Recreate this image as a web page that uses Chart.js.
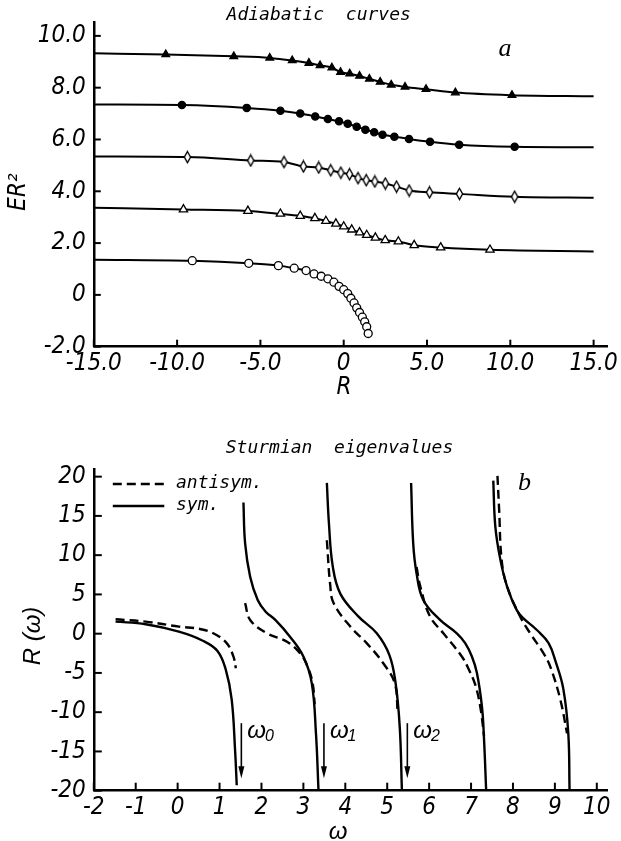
<!DOCTYPE html>
<html>
<head>
<meta charset="utf-8">
<script src="https://cdn.jsdelivr.net/npm/chart.js@4.4.1/dist/chart.umd.min.js"></script>
<style>
    html, body { margin: 0; padding: 0; background: #fff; }
    #wrapA { position: absolute; left: 0; top: 0; width: 621px; height: 400px; }
    #wrapB { position: absolute; left: 0; top: 400px; width: 621px; height: 441px; }
</style>
</head>
<body>
<div id="wrapA"><canvas id="chartA" width="621" height="400"></canvas></div>
<div id="wrapB"><canvas id="chartB" width="621" height="441"></canvas></div>
<script>
// ---- panel a: adiabatic curves ----
const rTicksA = [-15, -10, -5, 0, 5, 10, 15];
const eTicksA = [-2, 0, 2, 4, 6, 8, 10];
const curveStartE = [9.33, 7.35, 5.34, 3.36, 1.36];
const curveEndE = [7.67, 5.70, 3.75, 1.68, null];

const triFilledR = [-10.68, -6.6, -4.44, -3.09, -2.09, -1.42, -0.71, -0.19, 0.36, 0.95, 1.54, 2.19, 2.85, 3.68, 4.94, 6.7, 10.1];
const triFilledE = [9.28, 9.21, 9.15, 9.05, 8.95, 8.86, 8.77, 8.60, 8.54, 8.45, 8.34, 8.22, 8.11, 8.03, 7.94, 7.81, 7.71];
const dotFilledR = [-9.71, -5.82, -3.8, -2.61, -1.71, -0.95, -0.28, 0.24, 0.78, 1.3, 1.83, 2.33, 3.04, 3.92, 5.18, 6.93, 10.26];
const dotFilledE = [7.33, 7.22, 7.11, 7.00, 6.89, 6.79, 6.70, 6.61, 6.49, 6.38, 6.28, 6.18, 6.11, 6.02, 5.91, 5.80, 5.72];
const diamondR = [-9.38, -5.58, -3.58, -2.42, -1.5, -0.78, -0.17, 0.35, 0.86, 1.35, 1.87, 2.5, 3.17, 3.93, 5.15, 6.95, 10.26];
const diamondE = [5.32, 5.19, 5.13, 4.96, 4.92, 4.81, 4.72, 4.66, 4.51, 4.43, 4.38, 4.30, 4.18, 4.03, 3.96, 3.90, 3.79];
const triOpenR = [-9.62, -5.75, -3.8, -2.61, -1.73, -1.07, -0.47, 0, 0.48, 0.95, 1.38, 1.9, 2.49, 3.28, 4.23, 5.82, 8.78];
const triOpenE = [3.30, 3.24, 3.13, 3.05, 2.96, 2.85, 2.75, 2.64, 2.52, 2.41, 2.31, 2.21, 2.11, 2.06, 1.92, 1.83, 1.74];
const circleOpenR = [-9.09, -5.7, -3.92, -2.97, -2.26, -1.78, -1.35, -0.95, -0.59, -0.28, 0, 0.24, 0.43, 0.62, 0.78, 0.95, 1.12, 1.26, 1.38, 1.47];
const circleOpenE = [1.32, 1.22, 1.13, 1.03, 0.94, 0.81, 0.72, 0.62, 0.49, 0.33, 0.20, 0.05, -0.13, -0.31, -0.50, -0.68, -0.86, -1.04, -1.23, -1.49];

// ---- panel b: Sturmian eigenvalues ----
const omegaTicks = [-2, -1, 0, 1, 2, 3, 4, 5, 6, 7, 8, 9, 10];
const rTicksB = [-20, -15, -10, -5, 0, 5, 10, 15, 20];
const symOmega = [
    [-1.48, -0.76, 0.03, 0.6, 0.95, 1.15, 1.29, 1.37, 1.41],
    [1.57, 1.61, 1.73, 1.91, 2.1, 2.33, 2.68, 3.0, 3.2, 3.3, 3.36],
    [3.56, 3.61, 3.7, 3.88, 4.31, 4.75, 5.05, 5.2, 5.3, 5.35],
    [5.57, 5.62, 5.7, 5.86, 6.26, 6.66, 6.86, 7.02, 7.14, 7.26, 7.31, 7.36],
    [7.53, 7.58, 7.7, 7.86, 8.09, 8.25, 8.57, 8.85, 9.02, 9.2, 9.32, 9.35]
];
const symR = [
    [1.53, 1.2, 0.25, -0.9, -2.2, -4.6, -8.4, -14.8, -19.3],
    [16.7, 11.5, 7.26, 4.3, 2.8, 1.75, -0.38, -2.9, -6.3, -12.7, -19.9],
    [19.2, 14, 8.6, 5.1, 2.2, 0.05, -2.7, -6.3, -12, -19.9],
    [19.2, 11.5, 7.7, 4.3, 1.75, 0.05, -1.2, -2.9, -5, -9.3, -13.5, -19.9],
    [19.5, 13.6, 9.4, 6.0, 3.0, 1.96, 0.47, -1.2, -3.6, -7.0, -12.7, -19.9]
];
const antiOmega = [
    [-1.48, -0.76, 0.03, 0.53, 0.85, 1.17, 1.33, 1.39],
    [1.61, 1.73, 2.13, 2.6, 2.92, 3.1, 3.22, 3.27],
    [3.56, 3.64, 3.72, 4.12, 4.51, 4.91, 5.18, 5.25],
    [5.7, 5.79, 6.02, 6.34, 6.78, 6.95, 7.1, 7.22, 7.31],
    [7.63, 7.67, 7.73, 7.86, 8.17, 8.41, 8.73, 8.89, 9.13, 9.29]
];
const antiR = [
    [1.83, 1.53, 0.9, 0.6, 0.05, -1.2, -2.9, -4.4],
    [3.9, 1.75, 0.05, -1.0, -2.5, -4.2, -6.3, -9],
    [11.9, 6.2, 3.9, 0.9, -1.2, -3.8, -6.3, -10],
    [8.5, 6.0, 2.2, 0.05, -2.9, -4.6, -6.5, -9.3, -13],
    [20.1, 15.8, 9.4, 6.0, 2.2, 0.05, -2.5, -4.2, -8.4, -12.7]
];
const arrowOmega = [1.52, 3.49, 5.48];
const arrowSubs = ['0', '1', '2'];
const arrowTop = -11.4;
const arrowBottom = -18.4;

const tickFont = { family: "'Liberation Sans Narrow', 'DejaVu Sans Condensed', sans-serif", size: 24, style: 'italic' };
const monoItalic = "italic 18px 'DejaVu Sans Mono', 'Liberation Mono', monospace";

function pts(xs, ys) {
    return xs.map((x, i) => ({ x: x, y: ys[i] }));
}

function diamondImg() {
    const c = document.createElement('canvas');
    c.width = 9; c.height = 14;
    const g = c.getContext('2d');
    g.beginPath();
    g.moveTo(4.5, 1.5); g.lineTo(7.6, 7); g.lineTo(4.5, 12.5); g.lineTo(1.4, 7);
    g.closePath();
    g.fillStyle = '#fff'; g.fill();
    g.lineWidth = 1.4; g.strokeStyle = '#000'; g.stroke();
    return c;
}

// ticks pointing into the plot
const inwardTicks = {
    id: 'inwardTicks',
    afterDraw(chart, args, opts) {
        const { ctx, chartArea: a, scales: { x, y } } = chart;
        ctx.save();
        ctx.strokeStyle = '#000';
        ctx.lineWidth = 2;
        x.ticks.forEach(t => {
            const px = x.getPixelForValue(t.value);
            ctx.beginPath(); ctx.moveTo(px, a.bottom); ctx.lineTo(px, a.bottom - opts.len); ctx.stroke();
        });
        y.ticks.forEach(t => {
            const py = y.getPixelForValue(t.value);
            ctx.beginPath(); ctx.moveTo(a.left, py); ctx.lineTo(a.left + opts.len, py); ctx.stroke();
        });
        ctx.restore();
    }
};

function fixedTicks(vals) {
    return scale => { scale.ticks = vals.map(v => ({ value: v })); };
}

function axes(xMin, xMax, xTicks, xFmt, yMin, yMax, yTicks, yFmt, xHeight) {
    return {
        x: {
            type: 'linear', min: xMin, max: xMax,
            afterBuildTicks: fixedTicks(xTicks),
            afterFit: s => { s.height = xHeight; },
            grid: { display: false, drawTicks: false },
            border: { display: true, color: '#000', width: 2.5 },
            ticks: { color: '#000', font: tickFont, padding: 3, maxRotation: 0, autoSkip: false, callback: xFmt }
        },
        y: {
            type: 'linear', min: yMin, max: yMax,
            afterBuildTicks: fixedTicks(yTicks),
            afterFit: s => { s.width = 93.8; },
            grid: { display: false, drawTicks: false },
            border: { display: true, color: '#000', width: 2.5 },
            ticks: { color: '#000', font: tickFont, padding: 8, autoSkip: false, callback: yFmt }
        }
    };
}

// ---------- chart a ----------
const markerSets = [
    { r: triFilledR, e: triFilledE, style: 'triangle', radius: 4.4, fill: '#000' },
    { r: dotFilledR, e: dotFilledE, style: 'circle', radius: 3.6, fill: '#000' },
    { r: diamondR, e: diamondE, style: diamondImg(), radius: 4, fill: '#fff' },
    { r: triOpenR, e: triOpenE, style: 'triangle', radius: 4.8, fill: '#fff' },
    { r: circleOpenR, e: circleOpenE, style: 'circle', radius: 4, fill: '#fff' }
];

const datasetsA = [];
markerSets.forEach((m, i) => {
    datasetsA.push({
        data: pts(m.r, m.e),
        showLine: false,
        pointStyle: m.style,
        pointRadius: m.radius,
        pointBackgroundColor: m.fill,
        pointBorderColor: '#000',
        pointBorderWidth: 1.3,
        order: 0
    });
    const line = [{ x: -15, y: curveStartE[i] }].concat(pts(m.r, m.e));
    if (curveEndE[i] !== null) line.push({ x: 15, y: curveEndE[i] });
    datasetsA.push({
        data: line,
        borderColor: '#000',
        borderWidth: 2,
        pointRadius: 0,
        cubicInterpolationMode: 'monotone',
        fill: false,
        order: 1
    });
});

const textA = {
    id: 'textA',
    afterDraw(chart) {
        const ctx = chart.ctx;
        ctx.save();
        ctx.fillStyle = '#000';
        ctx.textAlign = 'center';
        ctx.textBaseline = 'middle';
        ctx.font = monoItalic;
        ctx.fillText('Adiabatic  curves', 318.7, 15);
        ctx.font = "italic 26px 'Liberation Serif', 'DejaVu Serif', serif";
        ctx.fillText('a', 505, 49);
        ctx.font = "italic 24px 'Liberation Sans Narrow', 'DejaVu Sans Condensed', sans-serif";
        ctx.fillText('R', 344, 388);
        ctx.translate(19, 192);
        ctx.rotate(-Math.PI / 2);
        ctx.fillText('ER²', 0, 0);
        ctx.restore();
    }
};

new Chart(document.getElementById('chartA'), {
    type: 'line',
    data: { datasets: datasetsA },
    plugins: [inwardTicks, textA],
    options: {
        responsive: false,
        devicePixelRatio: 1,
        animation: false,
        events: [],
        layout: { padding: { top: 19.9, right: 13.3, bottom: 0, left: 0 } },
        plugins: { legend: { display: false }, tooltip: { enabled: false }, inwardTicks: { len: 7 } },
        scales: axes(-15, 15.83, rTicksA, v => (v === 0 ? '0' : v.toFixed(1)),
                     -2, 10.52, eTicksA, v => (v === 0 ? '0' : v.toFixed(1)), 53.3)
    }
});

// ---------- chart b ----------
const datasetsB = [];
symOmega.forEach((w, i) => {
    datasetsB.push({
        data: pts(w, symR[i]),
        borderColor: '#000', borderWidth: 2.4, pointRadius: 0, tension: 0.4, fill: false
    });
    datasetsB.push({
        data: pts(antiOmega[i], antiR[i]),
        borderColor: '#000', borderWidth: 2.4, borderDash: [9, 5], pointRadius: 0, tension: 0.4, fill: false
    });
});

const textB = {
    id: 'textB',
    afterDraw(chart) {
        const { ctx, scales: { x, y } } = chart;
        ctx.save();
        ctx.fillStyle = '#000';
        ctx.strokeStyle = '#000';
        ctx.textBaseline = 'middle';
        ctx.textAlign = 'center';
        ctx.font = monoItalic;
        ctx.fillText('Sturmian  eigenvalues', 339.5, 48);
        ctx.font = "italic 26px 'Liberation Serif', 'DejaVu Serif', serif";
        ctx.fillText('b', 524.5, 83);

        // legend
        ctx.lineWidth = 2.4;
        ctx.setLineDash([9, 5]);
        ctx.beginPath(); ctx.moveTo(112.8, 84); ctx.lineTo(164.3, 84); ctx.stroke();
        ctx.setLineDash([]);
        ctx.beginPath(); ctx.moveTo(112.8, 106); ctx.lineTo(164.3, 106); ctx.stroke();
        ctx.textAlign = 'left';
        ctx.font = monoItalic;
        ctx.fillText('antisym.', 176, 83);
        ctx.fillText('sym.', 176, 105);

        // arrows to the omega_n thresholds
        arrowOmega.forEach((w, i) => {
            const px = x.getPixelForValue(w);
            const y1 = y.getPixelForValue(arrowTop);
            const y2 = y.getPixelForValue(arrowBottom);
            ctx.lineWidth = 1.6;
            ctx.beginPath(); ctx.moveTo(px, y1); ctx.lineTo(px, y2 - 8); ctx.stroke();
            ctx.beginPath(); ctx.moveTo(px, y2); ctx.lineTo(px - 3, y2 - 12); ctx.lineTo(px + 3, y2 - 12); ctx.closePath(); ctx.fill();
            const lx = px + 6;
            const ly = y.getPixelForValue(-12.4);
            ctx.font = "italic 24px 'Liberation Sans', 'DejaVu Sans', sans-serif";
            ctx.fillText('ω', lx, ly);
            const ww = ctx.measureText('ω').width;
            ctx.font = "italic 16px 'Liberation Sans', 'DejaVu Sans', sans-serif";
            ctx.fillText(arrowSubs[i], lx + ww - 1, ly + 6);
        });

        ctx.textAlign = 'center';
        ctx.font = "italic 24px 'Liberation Sans', 'DejaVu Sans', sans-serif";
        ctx.fillText('ω', 338, 432);
        ctx.translate(33, 236);
        ctx.rotate(-Math.PI / 2);
        ctx.fillText('R (ω)', 0, 0);
        ctx.restore();
    }
};

new Chart(document.getElementById('chartB'), {
    type: 'line',
    data: { datasets: datasetsB },
    plugins: [inwardTicks, textB],
    options: {
        responsive: false,
        devicePixelRatio: 1,
        animation: false,
        events: [],
        layout: { padding: { top: 68.8, right: 13.3, bottom: 0, left: 0 } },
        plugins: { legend: { display: false }, tooltip: { enabled: false }, inwardTicks: { len: 8 } },
        scales: axes(-2, 10.26, omegaTicks, v => String(v),
                     -20, 21, rTicksB, v => String(v), 50.3)
    }
});
</script>
</body>
</html>
